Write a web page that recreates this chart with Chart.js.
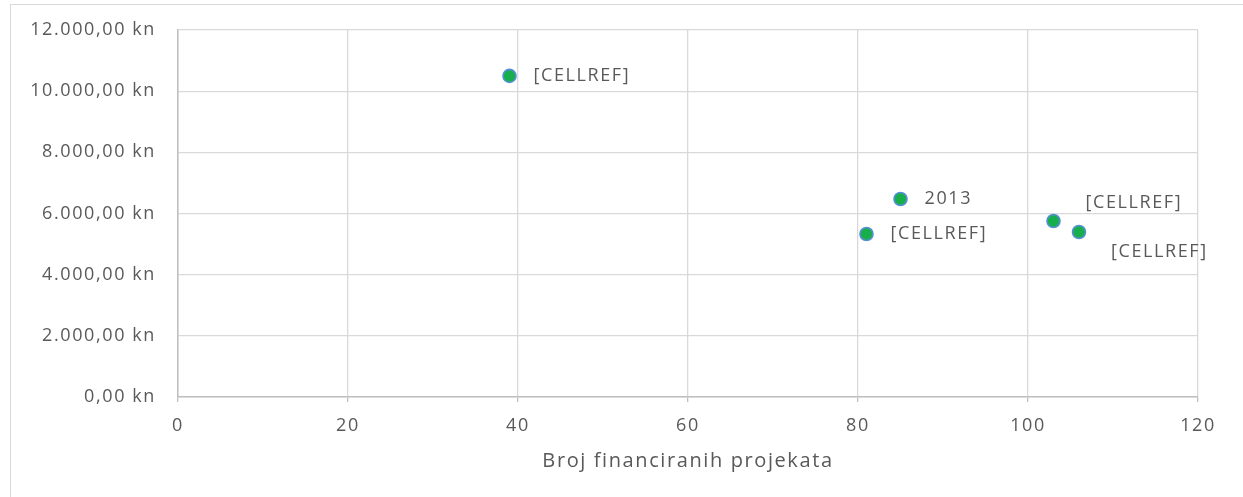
<!DOCTYPE html>
<html>
<head>
<meta charset="utf-8">
<script src="https://cdn.jsdelivr.net/npm/chart.js@4"></script>
<style>
  html, body { margin: 0; padding: 0; background: #fff; overflow: hidden; }
  #frame { position: absolute; left: 10px; top: 4px; width: 1260px; height: 520px; border: 1px solid #d9d9d9; }
  #wrap { position: absolute; left: 0; top: 0; width: 1243px; height: 497px; }
</style>
</head>
<body>
<div id="frame"></div>
<div id="wrap"><canvas id="scatterChart"></canvas></div>
<script>
// podaci
const projekti = [39, 85, 81, 103, 106];
const iznosi = [10500, 6475, 5330, 5755, 5395];
const oznake = ['[CELLREF]', '2013', '[CELLREF]', '[CELLREF]', '[CELLREF]'];
const xTitle = 'Broj financiranih projekata';

// pomak oznaka od točke (px)
const labelOffsets = [[24, 0], [24, 0], [24, 0], [32, -18], [32, 20]];

const textColor = '#595959';
const fontFamily = '"Open Sans", sans-serif';

function formatKn(v) {
    const s = v.toFixed(2).split('.');
    const int = s[0].replace(/\B(?=(\d{3})+(?!\d))/g, '.');
    return int + ',' + s[1] + ' kn';
}

const spacing = {
    id: 'spacing',
    beforeDraw(chart) {
        chart.ctx.letterSpacing = '1.6px';
    }
};

const pointLabels = {
    id: 'pointLabels',
    afterDatasetsDraw(chart) {
        const ctx = chart.ctx;
        const meta = chart.getDatasetMeta(0);
        ctx.save();
        ctx.letterSpacing = '1.6px';
        ctx.font = '18px ' + fontFamily;
        ctx.fillStyle = textColor;
        ctx.textAlign = 'left';
        ctx.textBaseline = 'middle';
        meta.data.forEach((pt, i) => {
            const off = labelOffsets[i];
            ctx.fillText(oznake[i], pt.x + off[0], pt.y + off[1]);
        });
        ctx.restore();
    }
};

const data = {
    datasets: [{
        label: 'Iznos',
        data: projekti.map((x, i) => ({ x: x, y: iznosi[i] })),
        backgroundColor: '#18ae4c',
        borderColor: '#5590d4',
        borderWidth: 1.6,
        pointRadius: 6.5,
        pointHoverRadius: 6.5
    }]
};

const config = {
    type: 'scatter',
    data: data,
    options: {
        responsive: true,
        maintainAspectRatio: false,
        animation: false,
        layout: { padding: { top: 30, right: 45, bottom: 20, left: 0 } },
        scales: {
            x: {
                min: 0,
                max: 120,
                afterFit(scale) {
                    scale.height = 80;
                    scale.paddingRight = 0;
                },
                ticks: {
                    stepSize: 20,
                    padding: 13,
                    color: textColor,
                    font: { family: fontFamily, size: 18 }
                },
                grid: { color: '#d9d9d9', tickColor: '#bfbfbf', tickLength: 5, lineWidth: 1.3 },
                border: { color: '#bfbfbf', width: 1.5 },
                title: {
                    display: true,
                    text: xTitle,
                    color: textColor,
                    font: { family: fontFamily, size: 20 },
                    padding: { top: 4, bottom: 4 }
                }
            },
            y: {
                min: 0,
                max: 12000,
                afterFit(scale) {
                    scale.width = 178;
                    scale.paddingTop = 0;
                    scale.paddingBottom = 0;
                },
                ticks: {
                    stepSize: 2000,
                    padding: 22,
                    color: textColor,
                    font: { family: fontFamily, size: 18 },
                    callback: (v) => formatKn(v)
                },
                grid: { color: '#d9d9d9', drawTicks: false, lineWidth: 1.3 },
                border: { color: '#bfbfbf', width: 1.5 }
            }
        },
        plugins: {
            legend: { display: false },
            tooltip: { enabled: false },
            title: { display: false }
        }
    },
    plugins: [spacing, pointLabels]
};

const ctx = document.getElementById('scatterChart').getContext('2d');
const scatterChart = new Chart(ctx, config);
</script>
</body>
</html>
